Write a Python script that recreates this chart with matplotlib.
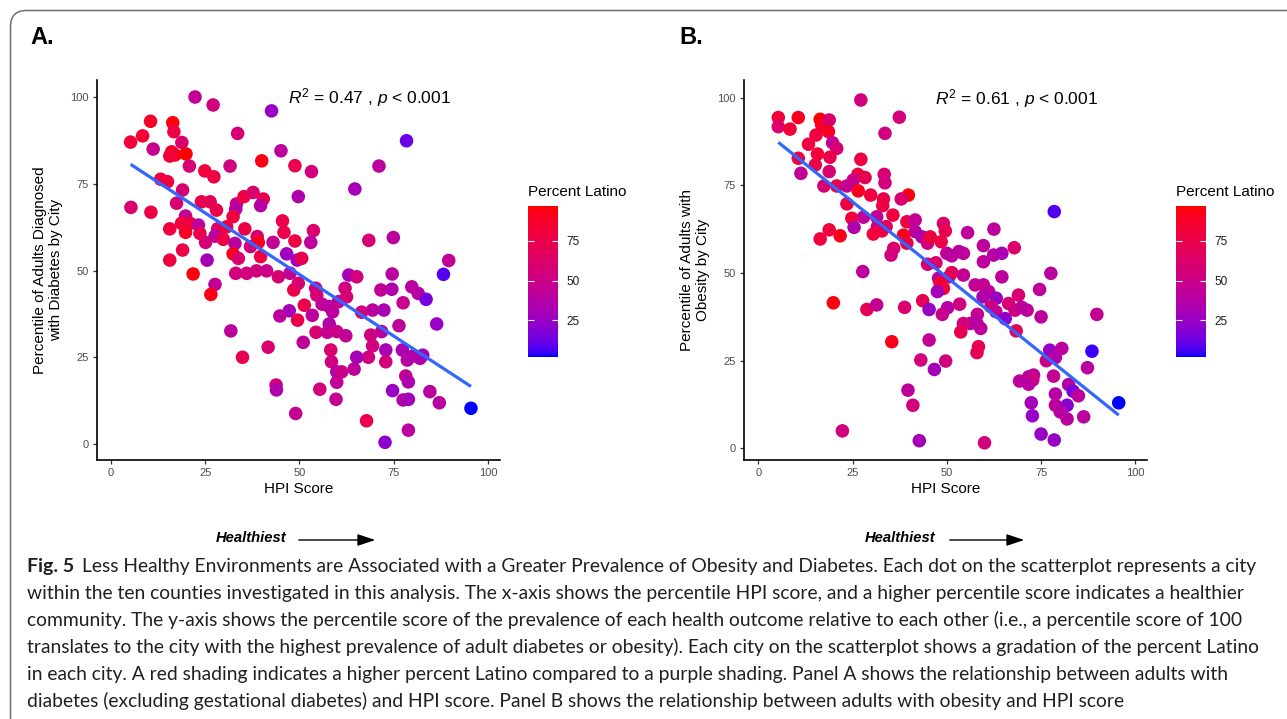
import numpy as np
import matplotlib
matplotlib.use("Agg")
import matplotlib.pyplot as plt
from matplotlib.colors import LinearSegmentedColormap
from matplotlib.patches import FancyBboxPatch, FancyArrowPatch
from matplotlib.transforms import IdentityTransform

plt.rcParams["font.family"] = ["Liberation Sans", "DejaVu Sans"]
plt.rcParams["mathtext.fontset"] = "custom"
plt.rcParams["mathtext.rm"] = "Liberation Sans"
plt.rcParams["mathtext.it"] = "Liberation Sans:italic"

# --- panel A: diabetes percentile vs HPI score ---
hpi_a = [22.3, 27.1, 42.6, 10.5, 16.4, 16.7, 8.4, 33.6, 5.2, 18.8, 11.2, 16.1, 17.0, 15.6, 19.9,
         45.1, 40.0, 20.8, 31.6, 48.8, 24.9, 27.3, 49.7, 13.2, 15.0, 19.0, 5.3, 10.6, 17.4, 24.0,
         26.3, 28.0, 33.3, 33.1, 35.3, 37.7, 40.4, 39.7, 19.8, 18.7, 21.0, 23.2, 15.6, 19.8, 23.6,
         28.3, 30.7, 32.4, 35.5, 27.6, 29.8, 25.1, 32.9, 37.0, 38.8, 39.1, 43.0, 45.5, 45.9, 48.8,
         46.6, 49.4, 19.0, 25.5, 15.6, 32.4, 39.7, 33.8, 21.8, 33.1, 36.0, 38.6, 41.3, 44.4, 47.5,
         78.4, 53.2, 71.1, 64.7, 53.7, 53.0, 68.4, 74.9, 50.6, 89.6, 63.1, 65.2, 74.6, 88.2, 27.6,
         26.5, 48.5, 49.7, 51.3, 54.3, 54.6, 56.0, 57.9, 58.8, 60.3, 62.1, 62.5, 47.3, 44.8, 49.5,
         53.4, 66.5, 69.4, 72.4, 71.6, 74.5, 79.8, 81.5, 83.6, 77.5, 31.8, 54.4, 57.9, 57.4, 59.9,
         62.3, 51.0, 68.9, 69.4, 71.8, 76.4, 86.4, 41.7, 34.9, 58.3, 58.5, 68.3, 65.2, 72.9, 72.9,
         77.3, 78.6, 80.2, 82.0, 82.7, 59.9, 61.2, 59.9, 64.5, 78.2, 78.9, 43.8, 43.9, 55.4, 74.7,
         84.6, 59.7, 77.5, 78.9, 87.1, 95.5, 49.0, 67.8, 78.9, 72.7]
diabetes_pct = [100.0, 97.7, 96.0, 93.0, 92.6, 90.0, 88.8, 89.5, 87.0, 86.9, 85.0, 84.2, 83.3, 83.0, 83.6,
                84.5, 81.6, 80.1, 80.1, 80.2, 78.7, 77.0, 71.3, 76.3, 75.6, 73.2, 68.2, 66.8, 69.4, 69.8,
                69.8, 67.4, 69.2, 67.7, 71.3, 72.5, 70.6, 68.7, 65.7, 63.6, 63.6, 63.1, 62.0, 61.0, 60.7,
                62.0, 62.6, 65.5, 62.0, 59.9, 59.0, 58.1, 57.8, 56.9, 59.8, 58.1, 58.1, 64.3, 61.0, 58.5,
                54.8, 53.0, 55.9, 53.0, 53.0, 54.8, 54.0, 53.5, 49.0, 49.2, 49.2, 49.9, 49.9, 48.2, 49.2,
                87.4, 78.5, 80.1, 73.5, 61.5, 58.1, 58.7, 59.5, 53.5, 52.9, 48.7, 48.2, 49.0, 48.9, 46.0,
                43.1, 44.4, 46.3, 40.0, 44.9, 42.9, 40.3, 39.6, 38.1, 41.0, 44.9, 42.4, 38.4, 36.9, 35.7,
                37.1, 38.0, 38.6, 38.6, 44.4, 44.6, 45.3, 43.4, 41.7, 40.7, 32.6, 32.2, 34.6, 32.2, 32.4,
                31.2, 29.3, 31.4, 28.3, 32.4, 34.1, 34.6, 27.9, 25.0, 27.1, 23.7, 25.0, 25.0, 27.1, 23.7,
                27.1, 24.2, 25.4, 24.7, 25.6, 20.8, 20.8, 17.8, 21.6, 19.6, 17.9, 17.0, 15.6, 15.8, 15.4,
                15.1, 12.9, 12.7, 12.9, 11.9, 10.3, 8.8, 6.7, 4.0, 0.5]
latino_a = [45, 55, 25, 88, 95, 78, 85, 58, 82, 62, 48, 85, 88, 82, 97,
            42, 93, 58, 55, 75, 82, 78, 35, 80, 80, 60, 60, 78, 60, 75,
            70, 75, 50, 38, 80, 60, 75, 38, 45, 80, 80, 40, 80, 88, 75,
            65, 80, 80, 78, 40, 78, 58, 40, 55, 60, 90, 45, 75, 75, 78,
            28, 30, 78, 30, 80, 92, 78, 62, 95, 55, 55, 55, 50, 58, 45,
            12, 55, 40, 30, 62, 42, 58, 40, 72, 45, 30, 55, 40, 8, 45,
            93, 78, 60, 75, 55, 58, 45, 40, 42, 45, 55, 58, 30, 42, 75,
            42, 58, 40, 32, 45, 35, 40, 40, 15, 48, 42, 60, 35, 45, 50,
            45, 42, 55, 55, 42, 42, 25, 60, 72, 60, 55, 55, 30, 32, 55,
            32, 40, 35, 38, 32, 35, 50, 45, 42, 45, 35, 55, 35, 55, 25,
            40, 45, 38, 30, 40, 2, 45, 75, 40, 22]
fit_a = (-0.709, 84.3)  # slope, intercept of the drawn lm line
label_a = r"$R^2$ = 0.47 , $p$ < 0.001"

# --- panel B: obesity percentile vs HPI score ---
hpi_b = [27.2, 5.3, 10.6, 5.3, 8.4, 16.4, 16.8, 18.8, 18.6, 15.3, 13.3, 19.7, 20.8, 37.4, 33.6,
         15.7, 19.0, 10.6, 15.1, 27.2, 11.3, 18.8, 26.4, 28.3, 25.2, 33.4, 33.6, 17.4, 20.8, 23.5,
         26.5, 29.8, 39.8, 37.9, 33.2, 33.0, 23.5, 35.7, 24.8, 27.9, 25.4, 31.4, 31.6, 30.5, 32.8,
         33.9, 39.4, 41.6, 41.6, 43.4, 38.5, 39.4, 44.9, 45.6, 48.5, 49.1, 50.0, 18.8, 16.4, 21.7,
         35.9, 35.2, 44.9, 47.1, 27.7, 47.8, 50.6, 78.5, 49.6, 55.5, 62.5, 59.7, 67.9, 51.3, 53.2,
         54.4, 59.7, 62.4, 64.6, 77.6, 64.6, 51.3, 54.4, 48.2, 49.1, 47.5, 57.5, 59.7, 61.1, 59.6,
         63.1, 69.0, 74.6, 43.6, 45.3, 50.2, 53.4, 19.9, 28.8, 31.4, 38.8, 48.8, 61.7, 63.0, 66.4,
         68.1, 69.9, 71.3, 58.1, 58.0, 59.0, 56.2, 54.4, 53.7, 65.5, 68.4, 75.0, 89.8, 35.4, 45.3,
         58.4, 58.0, 77.3, 78.8, 76.4, 80.5, 88.5, 87.3, 43.1, 49.7, 46.7, 78.3, 69.3, 71.7, 73.0,
         72.8, 71.7, 82.3, 83.5, 84.9, 78.8, 95.6, 39.7, 41.0, 72.4, 78.8, 81.9, 80.1, 81.9, 72.7,
         86.3, 22.3, 75.0, 78.5, 42.7, 60.0]
obesity_pct = [99.3, 94.3, 94.3, 91.7, 91.0, 93.8, 92.2, 93.6, 90.3, 89.3, 86.7, 87.1, 85.5, 94.4, 89.8,
               83.9, 83.0, 82.7, 80.8, 82.4, 78.4, 78.9, 78.1, 77.2, 76.5, 78.1, 75.7, 74.8, 74.8, 74.8,
               73.4, 72.2, 72.2, 71.1, 71.1, 69.2, 69.7, 66.5, 65.6, 65.9, 63.0, 66.0, 63.2, 61.1, 62.0,
               63.2, 64.6, 65.1, 61.8, 60.3, 60.8, 58.5, 58.5, 60.3, 58.9, 64.1, 55.6, 62.3, 59.7, 60.6,
               57.0, 55.1, 52.5, 52.9, 50.4, 48.5, 48.9, 67.5, 62.0, 61.5, 62.5, 57.8, 57.2, 54.9, 56.1,
               55.6, 53.2, 55.1, 55.6, 49.9, 48.9, 50.1, 49.4, 47.0, 45.6, 44.7, 46.6, 46.6, 44.7, 43.2,
               42.8, 43.7, 45.3, 42.1, 39.6, 40.1, 41.1, 41.5, 39.6, 40.9, 40.2, 38.2, 40.4, 39.0, 41.3,
               39.4, 40.2, 39.4, 38.2, 35.6, 34.2, 35.6, 35.6, 33.2, 37.0, 33.5, 37.5, 38.2, 30.4, 30.9,
               29.0, 27.3, 28.0, 25.9, 25.0, 28.5, 27.7, 23.0, 25.2, 24.9, 22.5, 20.6, 19.2, 20.4, 20.9,
               19.5, 18.3, 18.2, 16.3, 15.0, 15.5, 13.0, 16.6, 12.3, 13.0, 12.3, 12.3, 10.4, 8.4, 9.3,
               9.0, 5.0, 4.1, 2.4, 2.2, 1.6]
latino_b = [55, 82, 90, 62, 82, 97, 90, 60, 88, 80, 80, 45, 58, 55, 55,
            82, 75, 80, 75, 78, 45, 60, 80, 72, 50, 58, 55, 58, 78, 45,
            90, 80, 95, 60, 75, 78, 80, 80, 82, 45, 35, 45, 50, 82, 80,
            70, 78, 45, 40, 35, 92, 80, 55, 80, 78, 62, 45, 80, 80, 92,
            62, 55, 58, 62, 42, 40, 55, 8, 72, 42, 42, 42, 62, 40, 38,
            42, 42, 40, 32, 40, 42, 70, 45, 85, 80, 30, 45, 45, 45, 35,
            25, 58, 42, 72, 25, 38, 55, 95, 70, 45, 62, 48, 55, 45, 58,
            55, 42, 42, 45, 38, 42, 38, 55, 72, 22, 72, 42, 45, 92, 45,
            72, 70, 25, 35, 50, 40, 5, 40, 55, 55, 30, 45, 42, 42, 40,
            55, 40, 38, 15, 42, 38, 2, 42, 55, 30, 42, 20, 38, 40, 25,
            40, 55, 25, 25, 30, 55]
fit_b = (-0.861, 91.8)
label_b = r"$R^2$ = 0.61 , $p$ < 0.001"

caption_lines = [
    "Less Healthy Environments are Associated with a Greater Prevalence of Obesity and Diabetes. Each dot on the scatterplot represents a city",
    "within the ten counties investigated in this analysis. The x-axis shows the percentile HPI score, and a higher percentile score indicates a healthier",
    "community. The y-axis shows the percentile score of the prevalence of each health outcome relative to each other (i.e., a percentile score of 100",
    "translates to the city with the highest prevalence of adult diabetes or obesity). Each city on the scatterplot shows a gradation of the percent Latino",
    "in each city. A red shading indicates a higher percent Latino compared to a purple shading. Panel A shows the relationship between adults with",
    "diabetes (excluding gestational diabetes) and HPI score. Panel B shows the relationship between adults with obesity and HPI score",
]


# ggplot-style blue -> red gradient, interpolated in CIE Lab
_M = np.array([[0.4124, 0.3576, 0.1805], [0.2126, 0.7152, 0.0722], [0.0193, 0.1192, 0.9505]])
_WHITE = np.array([0.95047, 1.0, 1.08883])


def to_lab(rgb):
    c = np.asarray(rgb, float)
    lin = np.where(c <= 0.04045, c / 12.92, ((c + 0.055) / 1.055) ** 2.4)
    xyz = _M @ lin / _WHITE
    f = np.where(xyz > 0.008856, np.cbrt(xyz), 7.787 * xyz + 16 / 116)
    return np.array([116 * f[1] - 16, 500 * (f[0] - f[1]), 200 * (f[1] - f[2])])


def from_lab(lab):
    fy = (lab[0] + 16) / 116
    f = np.array([fy + lab[1] / 500, fy, fy - lab[2] / 200])
    xyz = np.where(f ** 3 > 0.008856, f ** 3, (f - 16 / 116) / 7.787) * _WHITE
    lin = np.clip(np.linalg.solve(_M, xyz), 0, 1)
    return np.where(lin <= 0.0031308, 12.92 * lin, 1.055 * lin ** (1 / 2.4) - 0.055)


lab_lo, lab_hi = to_lab([0, 0, 1]), to_lab([1, 0, 0])
cmap = LinearSegmentedColormap.from_list(
    "blue_red_lab", [from_lab(lab_lo + t * (lab_hi - lab_lo)) for t in np.linspace(0, 1, 64)])


def draw_panel(ax, cax, x, y, latino, fit, r2_text, ylabel, xlim, ylim):
    sc = ax.scatter(x, y, c=latino, cmap=cmap, vmin=min(latino), vmax=max(latino),
                    s=95, linewidths=0, zorder=2)
    xs = np.array([min(x), max(x)])
    ax.plot(xs, fit[0] * xs + fit[1], color="#3366FF", lw=2.3, zorder=3, solid_capstyle="butt")
    ax.text(68.5, 99.8, r2_text, fontsize=12.5, ha="center", va="center", zorder=4)

    ax.set_xlim(*xlim)
    ax.set_ylim(*ylim)
    ax.set_xticks([0, 25, 50, 75, 100])
    ax.set_yticks([0, 25, 50, 75, 100])
    ax.spines["top"].set_visible(False)
    ax.spines["right"].set_visible(False)
    for side in ("left", "bottom"):
        ax.spines[side].set_linewidth(1.2)
    ax.tick_params(length=3, width=0.9, color="#333333", labelsize=8, labelcolor="#4D4D4D", pad=3)
    ax.set_xlabel("HPI Score", fontsize=11)
    ax.xaxis.set_label_coords(0.5, -0.058)
    ax.set_ylabel(ylabel, fontsize=11, linespacing=1.15)
    ax.yaxis.set_label_coords(-0.085, 0.5)

    cb = fig.colorbar(sc, cax=cax, ticks=[25, 50, 75])
    cb.outline.set_visible(False)
    cax.minorticks_off()
    cax.yaxis.set_ticks_position("both")
    cax.tick_params(direction="in", length=4, width=0.8, color="white", labelsize=8.5,
                    labelcolor="#1a1a1a", labelleft=False, labelright=True, pad=6)
    cax.set_title("Percent Latino", loc="left", fontsize=11, pad=7)


fig = plt.figure(figsize=(12.87, 7.19), dpi=100)
W, H = 1287, 719

ax_a = fig.add_axes([97 / W, 1 - 460 / H, 403 / W, 380 / H])
cax_a = fig.add_axes([528 / W, 1 - 357 / H, 30 / W, 151 / H])
ax_b = fig.add_axes([744 / W, 1 - 460 / H, 403 / W, 380 / H])
cax_b = fig.add_axes([1176 / W, 1 - 357 / H, 30 / W, 151 / H])

draw_panel(ax_a, cax_a, hpi_a, diabetes_pct, latino_a, fit_a, label_a,
           "Percentile of Adults Diagnosed\nwith Diabetes by City", (-3.7, 103.2), (-4.6, 104.9))
draw_panel(ax_b, cax_b, hpi_b, obesity_pct, latino_b, fit_b, label_b,
           "Percentile of Adults with\nObesity by City", (-3.8, 103.1), (-3.3, 105.0))

# panel letters
fig.text(30 / W, 1 - 37 / H, "A.", fontsize=17, fontweight="bold", va="center")
fig.text(679 / W, 1 - 37 / H, "B.", fontsize=17, fontweight="bold", va="center")

# "Healthiest" arrows under each panel
for tx, a0, a1 in [(251, 296, 378), (900, 947, 1027)]:
    fig.text(tx / W, 1 - 538 / H, "Healthiest", fontsize=10.6, fontweight="bold",
             fontstyle="italic", ha="center", va="center")
    fig.add_artist(FancyArrowPatch(
        (a0 / W, 1 - 540 / H), (a1 / W, 1 - 540 / H), transform=fig.transFigure,
        arrowstyle="-|>,head_length=0.9,head_width=0.3", mutation_scale=12, lw=1.0, color="black"))

# caption
cap_font = ["Lato", "DejaVu Sans"]
fig.text(27 / W, 1 - 572 / H, "Fig. 5", fontsize=14, fontweight="bold", family=cap_font,
         color="#231f20", va="baseline")
for i, line in enumerate(caption_lines):
    x0 = 82 if i == 0 else 27
    fig.text(x0 / W, 1 - (572 + 27 * i) / H, line, fontsize=13.9, family=cap_font,
             color="#231f20", va="baseline")

# rounded frame around the figure
fig.add_artist(FancyBboxPatch((10.5, -80), 1500, 788.5, boxstyle="round,pad=0,rounding_size=16",
                              transform=IdentityTransform(), fill=False, edgecolor="#6d6e71", lw=1.1))

fig.savefig("out.png", dpi=100)
